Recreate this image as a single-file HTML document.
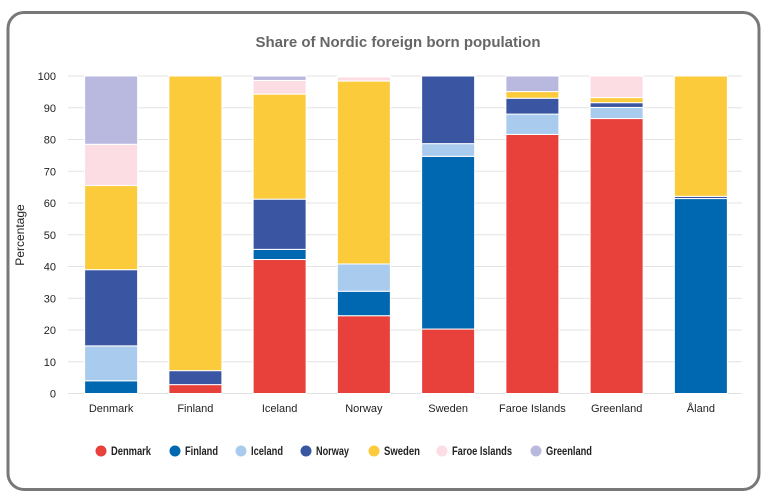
<!DOCTYPE html>
<html><head><meta charset="utf-8"><style>
html,body{margin:0;padding:0;background:#fff;}
svg{display:block;font-family:"Liberation Sans",Arial,sans-serif;}
</style></head><body>
<svg id="chart" width="768" height="504">
<rect x="8" y="12.5" width="751" height="477" rx="16" ry="16" fill="#fff" stroke="#787878" stroke-width="3"/>
<text x="398" y="47" text-anchor="middle" font-size="15" font-weight="bold" fill="#666">Share of Nordic foreign born population</text>
<text transform="translate(24,235) rotate(-90)" text-anchor="middle" font-size="12" fill="#222">Percentage</text>
<g id="grid"></g><g id="bars"></g><g id="xlabels"></g><g id="legend"></g>
</svg>
<script>
const categories=["Denmark","Finland","Iceland","Norway","Sweden","Faroe Islands","Greenland","Åland"];
const seriesNames=["Denmark","Finland","Iceland","Norway","Sweden","Faroe Islands","Greenland"];
const colors=["#e8403b","#0068b0","#a9cbee","#3a56a3","#fccb3c","#fddde4","#b9b9e0"];
const sDenmark=[0,2.8,42.2,24.5,20.3,81.6,86.6,0];
const sFinland=[4,0,3.2,7.7,54.4,0,0,61.4];
const sIceland=[11,0,0,8.6,4,6.4,3.5,0];
const sNorway=[24,4.4,15.8,0,21.3,5,1.5,0.7];
const sSweden=[26.5,92.8,33.1,57.6,0,2.1,1.6,37.9];
const sFaroe=[13,0,4.3,1.3,0,0,6.8,0];
const sGreenland=[21.5,0,1.4,0.3,0,4.9,0,0];
const series=[sDenmark,sFinland,sIceland,sNorway,sSweden,sFaroe,sGreenland];
const yTicks=[0,10,20,30,40,50,60,70,80,90,100];
const NS="http://www.w3.org/2000/svg";
const x0=68,x1=742,y0=393.5,y100=76;
const y=v=>y0-(v/100)*(y0-y100);
const band=(x1-x0)/categories.length;
const xc=i=>x0+band*(i+0.5);
const bw=53;
function mk(t,a,p){const e=document.createElementNS(NS,t);for(const k in a)e.setAttribute(k,a[k]);p.appendChild(e);return e;}
const grid=document.getElementById('grid');
yTicks.forEach(t=>{
  const l=mk('line',{x1:x0,x2:x1,y1:y(t),y2:y(t),stroke:'#e3e3e3','stroke-width':1},grid);
  
  
  const tx=mk('text',{x:56,y:y(t)+4,'text-anchor':'end','font-size':11,fill:'#222'},grid);
  tx.textContent=t;
  
  
});
const bars=document.getElementById('bars');
categories.forEach((c,i)=>{
  let acc=0;
  series.forEach((s,j)=>{
    const v=s[i];if(v<=0)return;
    const top=y(acc+v),bot=y(acc);
    const r=mk('rect',{x:xc(i)-bw/2+1,y:top,width:bw,height:Math.max(bot-top,0),fill:colors[j],stroke:'#fff','stroke-width':1},bars);
    
    
    acc+=v;
  });
  const t=mk('text',{x:xc(i)+1,y:412,'text-anchor':'middle','font-size':11,fill:'#222'},document.getElementById('xlabels'));
  t.textContent=c;
  
  
});
const legend=document.getElementById('legend');
const lx=[101,175,241,306,374,442,536];
const lw=[40,33,32,33,36,60,46];
seriesNames.forEach((n,j)=>{
  const g=mk('g',{},legend);
  
  
  mk('circle',{cx:lx[j],cy:451,r:5.5,fill:colors[j]},g);
  const t=mk('text',{x:lx[j]+10,y:455,'font-size':12,'font-weight':'bold',fill:'#222',textLength:lw[j],lengthAdjust:'spacingAndGlyphs'},g);
  t.textContent=n;
});
</script>
</body></html>
